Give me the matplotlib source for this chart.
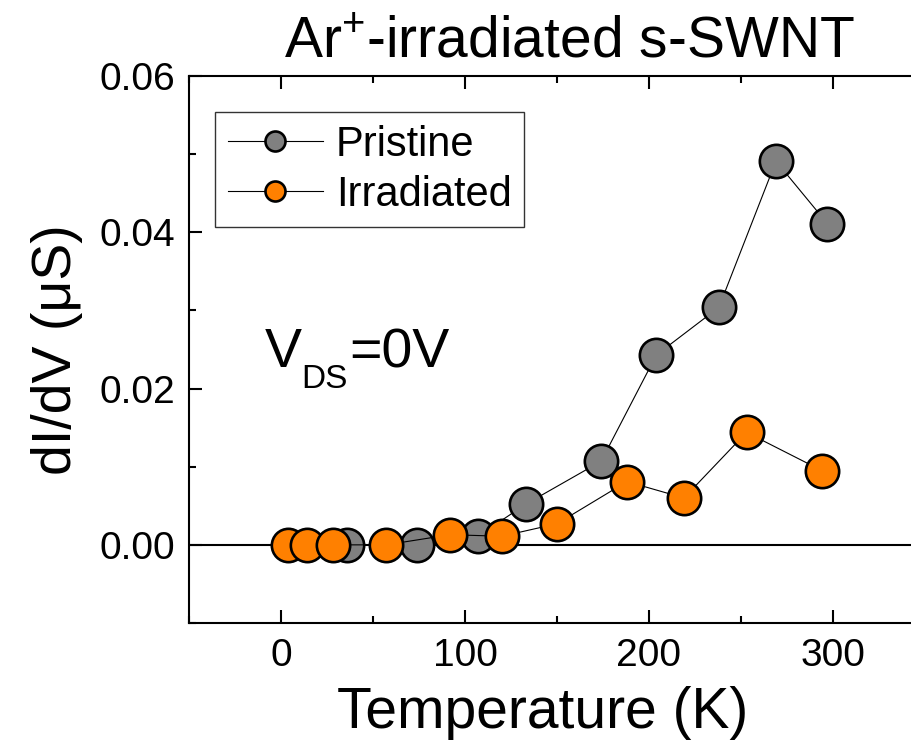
import matplotlib
matplotlib.use("Agg")
import matplotlib.pyplot as plt
from matplotlib.ticker import MultipleLocator

plt.rcParams["font.family"] = ["Liberation Sans", "DejaVu Sans"]
plt.rcParams["mathtext.fontset"] = "custom"
plt.rcParams["mathtext.rm"] = "Liberation Sans"
plt.rcParams["mathtext.it"] = "Liberation Sans"

# data
pristine_T = [36, 74, 107, 133, 174, 204, 238, 269, 297]
pristine_G = [0.0000, 0.0000, 0.0011, 0.0052, 0.0107, 0.0243, 0.0304, 0.0491, 0.0411]

irrad_T = [4, 14, 28, 57, 92, 120, 150, 188, 219, 253, 294]
irrad_G = [0.0000, 0.0000, 0.0000, 0.0000, 0.0013, 0.0011, 0.0027, 0.0081, 0.0060, 0.0144, 0.0095]

fig = plt.figure(figsize=(9.11, 7.41), dpi=100)
ax = fig.add_axes([189 / 911, 118 / 741, 736 / 911, 547 / 741])

ax.axhline(0, color="black", lw=1.5, zorder=1)

ax.plot(pristine_T, pristine_G, "-o", color="black", lw=0.8,
        markerfacecolor="#808080", markeredgecolor="black",
        markeredgewidth=1.9, markersize=24, label="Pristine", zorder=2)
ax.plot(irrad_T, irrad_G, "-o", color="black", lw=0.8,
        markerfacecolor="#FF8000", markeredgecolor="black",
        markeredgewidth=1.9, markersize=24, label="Irradiated", zorder=3)

ax.set_xlim(-50, 350)
ax.set_ylim(-0.01, 0.06)
ax.xaxis.set_major_locator(MultipleLocator(100))
ax.xaxis.set_minor_locator(MultipleLocator(50))
ax.yaxis.set_major_locator(MultipleLocator(0.02))
ax.yaxis.set_minor_locator(MultipleLocator(0.01))
ax.yaxis.set_major_formatter(plt.FormatStrFormatter("%.2f"))

ax.tick_params(which="both", direction="in", top=True, right=True, width=1.5,
               labelsize=28)
ax.tick_params(which="major", length=9.5)
ax.tick_params(which="minor", length=5)
ax.tick_params(axis="x", pad=11)
ax.tick_params(axis="y", pad=10)
for s in ax.spines.values():
    s.set_linewidth(1.5)

fig.text(569 / 911, 1 - 57 / 741, r"Ar$^{+}$-irradiated s-SWNT", fontsize=41,
         ha="center", va="baseline")
fig.text(543 / 911, 1 - 728 / 741, "Temperature (K)", fontsize=41,
         ha="center", va="baseline")
fig.text(57 / 911, 1 - 350 / 741, "dI/dV (\u03bcS)", fontsize=40,
         rotation=90, ha="center", va="center")

# V_DS=0V, subscript set lower than mathtext would put it
fig.text(265 / 911, 1 - 367 / 741, "V", fontsize=40, va="baseline", ha="left")
fig.text(301 / 911, 1 - 388 / 741, "DS", fontsize=24, va="baseline", ha="left")
fig.text(349 / 911, 1 - 367 / 741, "=0V", fontsize=40, va="baseline", ha="left")

leg = ax.legend(loc="upper left", bbox_to_anchor=(26 / 736, 1 - 36 / 547),
                fontsize=30, markerscale=0.6, frameon=True, fancybox=False,
                borderpad=0.3, labelspacing=0.25, handlelength=2.3,
                handletextpad=0.3, borderaxespad=0)
leg.get_frame().set_edgecolor("black")
leg.get_frame().set_linewidth(1.0)

fig.savefig("out.png", dpi=100)
